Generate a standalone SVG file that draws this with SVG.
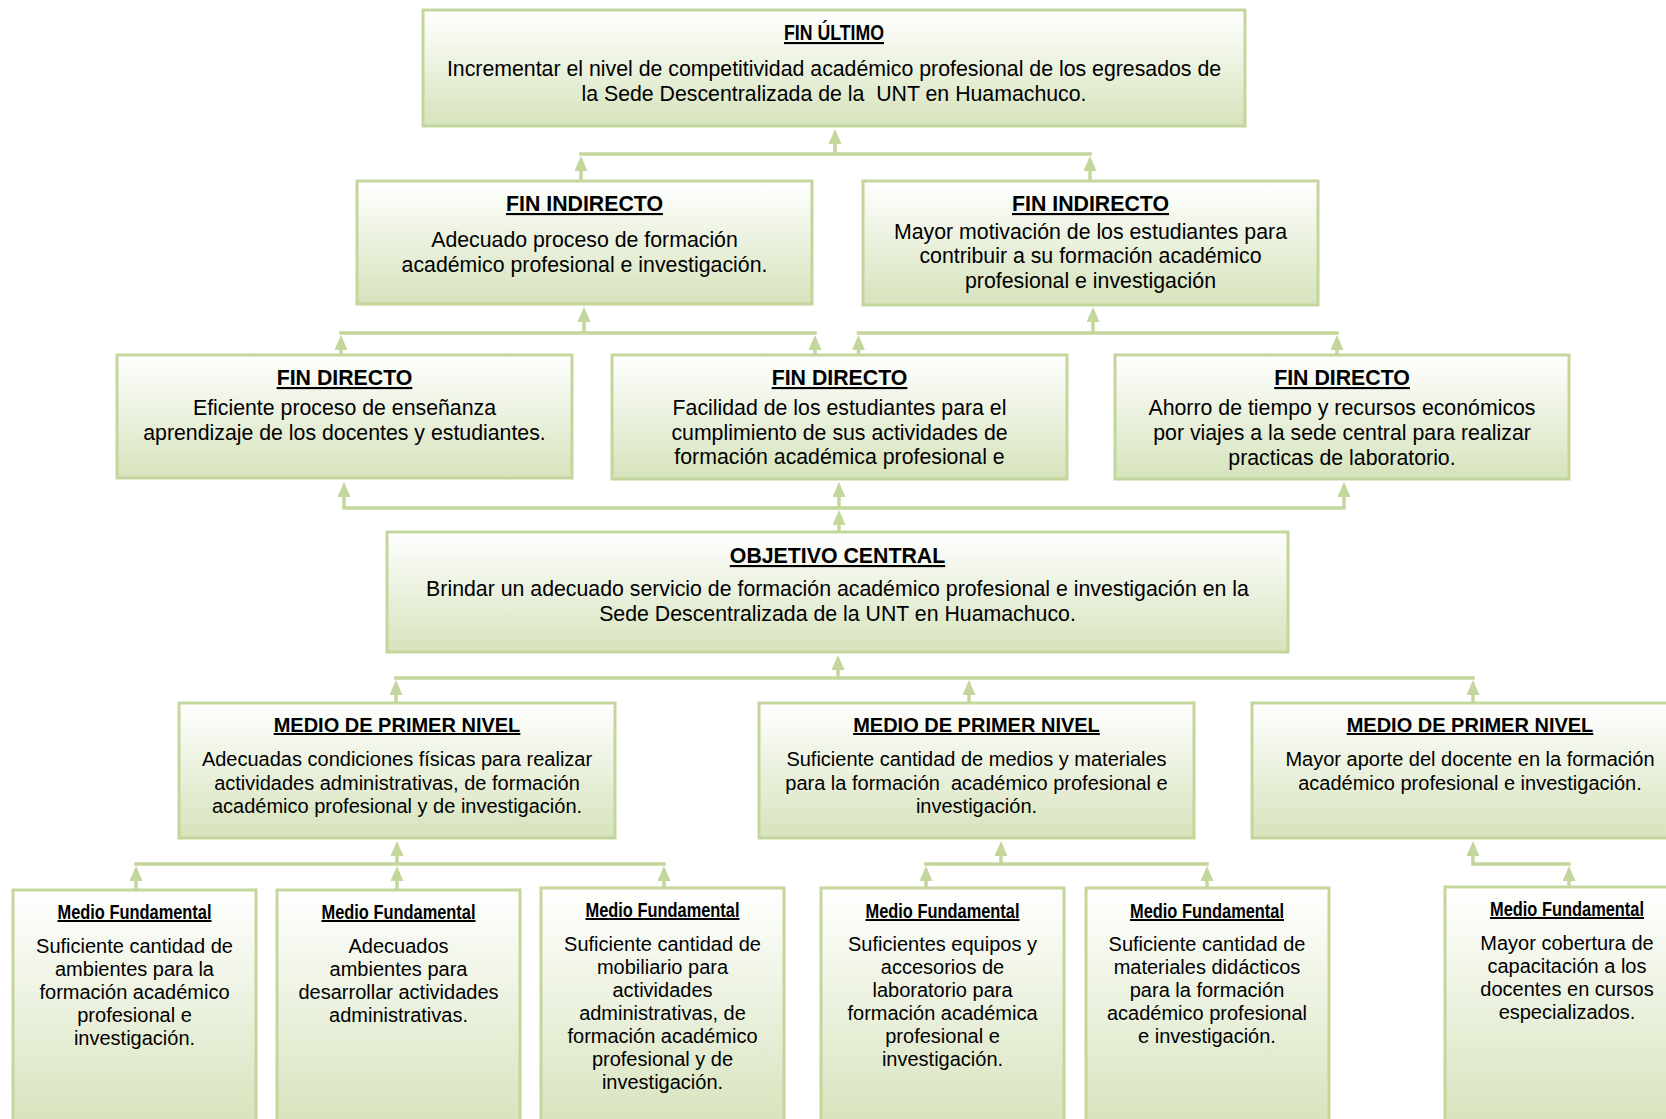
<svg xmlns="http://www.w3.org/2000/svg" width="1666" height="1119" viewBox="0 0 1666 1119">
<defs>
<linearGradient id="g" x1="0" y1="0" x2="0" y2="1">
<stop offset="0" stop-color="#ffffff"/>
<stop offset="1" stop-color="#d6e3bc"/>
</linearGradient>
<marker id="ah" markerWidth="15" markerHeight="13" refX="0" refY="6.5" orient="auto" markerUnits="userSpaceOnUse" viewBox="0 0 15 13">
<path d="M0,0 L15,6.5 L0,13 z" fill="#c3d69b"/>
</marker>
</defs>
<style>
.box{fill:url(#g);stroke:#c3d69b;stroke-width:3}
.t{font-family:"Liberation Sans",Arial,sans-serif;fill:#000;text-anchor:middle}
.big{font-size:21.3px}
.sm{font-size:20px}
.ttl{font-weight:bold;text-decoration:underline}
.nar{font-family:"Liberation Sans Narrow","Liberation Sans",Arial,sans-serif}
.c{stroke:#c3d69b;stroke-width:3.5;fill:none;stroke-linecap:square}
.a{stroke:#c3d69b;stroke-width:3.5;fill:none;marker-end:url(#ah)}
</style>
<rect width="1666" height="1119" fill="#ffffff"/>

<g id="connectors">
<line class="a" x1="835" y1="154" x2="835" y2="144"/>
<path class="c" d="M581,154 H1090"/>
<line class="a" x1="581" y1="181" x2="581" y2="171"/>
<line class="a" x1="1090" y1="181" x2="1090" y2="171"/>

<line class="a" x1="584" y1="333" x2="584" y2="322"/>
<line class="a" x1="1093" y1="333" x2="1093" y2="322"/>
<path class="c" d="M341,333 H815"/>
<path class="c" d="M858.5,333 H1337"/>
<line class="a" x1="341" y1="355" x2="341" y2="350"/>
<line class="a" x1="815" y1="355" x2="815" y2="350"/>
<line class="a" x1="858.5" y1="355" x2="858.5" y2="350"/>
<line class="a" x1="1337" y1="355" x2="1337" y2="350"/>

<line class="a" x1="344" y1="508" x2="344" y2="497"/>
<line class="a" x1="839" y1="508" x2="839" y2="497"/>
<line class="a" x1="1344" y1="508" x2="1344" y2="497"/>
<path class="c" d="M344,508 H1344"/>
<line class="a" x1="839" y1="532" x2="839" y2="525"/>

<line class="a" x1="838" y1="678" x2="838" y2="670"/>
<path class="c" d="M396,678 H1473"/>
<line class="a" x1="396" y1="703" x2="396" y2="695"/>
<line class="a" x1="969" y1="703" x2="969" y2="695"/>
<line class="a" x1="1473" y1="703" x2="1473" y2="695"/>

<line class="a" x1="397" y1="864" x2="397" y2="856"/>
<line class="a" x1="1001" y1="864" x2="1001" y2="856"/>
<line class="a" x1="1473" y1="864" x2="1473" y2="856"/>
<path class="c" d="M136,864 H664"/>
<path class="c" d="M926,864 H1207"/>
<path class="c" d="M1473,864 H1569"/>
<line class="a" x1="136" y1="890" x2="136" y2="881"/>
<line class="a" x1="397" y1="890" x2="397" y2="881"/>
<line class="a" x1="664" y1="888" x2="664" y2="881"/>
<line class="a" x1="926" y1="888" x2="926" y2="881"/>
<line class="a" x1="1207" y1="888" x2="1207" y2="881"/>
<line class="a" x1="1569" y1="887" x2="1569" y2="881"/>
</g>

<g id="fin-ultimo">
<rect class="box" x="423" y="10" width="822" height="116"/>
<text class="t big ttl nar" x="834" y="40" textLength="100" lengthAdjust="spacingAndGlyphs">FIN ÚLTIMO</text>
<text class="t big" x="834" y="76">Incrementar el nivel de competitividad académico profesional de los egresados de</text>
<text class="t big" x="834" y="101" xml:space="preserve">la Sede Descentralizada de la  UNT en Huamachuco.</text>
</g>

<g id="fin-indirecto-1">
<rect class="box" x="357" y="181" width="455" height="123"/>
<text class="t big ttl" x="584.5" y="211">FIN INDIRECTO</text>
<text class="t big" x="584.5" y="247">Adecuado proceso de formación</text>
<text class="t big" x="584.5" y="272">académico profesional e investigación.</text>
</g>

<g id="fin-indirecto-2">
<rect class="box" x="863" y="181" width="455" height="124"/>
<text class="t big ttl" x="1090.5" y="211">FIN INDIRECTO</text>
<text class="t big" x="1090.5" y="238.5">Mayor motivación de los estudiantes para</text>
<text class="t big" x="1090.5" y="263">contribuir a su formación académico</text>
<text class="t big" x="1090.5" y="287.5">profesional e investigación</text>
</g>

<g id="fin-directo-1">
<rect class="box" x="117" y="355" width="455" height="123"/>
<text class="t big ttl" x="344.5" y="385">FIN DIRECTO</text>
<text class="t big" x="344.5" y="415">Eficiente proceso de enseñanza</text>
<text class="t big" x="344.5" y="439.5">aprendizaje de los docentes y estudiantes.</text>
</g>

<g id="fin-directo-2">
<rect class="box" x="612" y="355" width="455" height="124"/>
<text class="t big ttl" x="839.5" y="385">FIN DIRECTO</text>
<text class="t big" x="839.5" y="415">Facilidad de los estudiantes para el</text>
<text class="t big" x="839.5" y="439.5">cumplimiento de sus actividades de</text>
<text class="t big" x="839.5" y="464">formación académica profesional e</text>
</g>

<g id="fin-directo-3">
<rect class="box" x="1115" y="355" width="454" height="124"/>
<text class="t big ttl" x="1342" y="385">FIN DIRECTO</text>
<text class="t big" x="1342" y="415">Ahorro de tiempo y recursos económicos</text>
<text class="t big" x="1342" y="439.5">por viajes a la sede central para realizar</text>
<text class="t big" x="1342" y="464.5">practicas de laboratorio.</text>
</g>

<g id="objetivo-central">
<rect class="box" x="387" y="532" width="901" height="120"/>
<text class="t big ttl" x="837.5" y="563">OBJETIVO CENTRAL</text>
<text class="t big" x="837.5" y="595.5">Brindar un adecuado servicio de formación académico profesional e investigación en la</text>
<text class="t big" x="837.5" y="621">Sede Descentralizada de la UNT en Huamachuco.</text>
</g>

<g id="medio-1">
<rect class="box" x="179" y="703" width="436" height="135"/>
<text class="t sm ttl" x="397" y="732">MEDIO DE PRIMER NIVEL</text>
<text class="t sm" x="397" y="766">Adecuadas condiciones físicas para realizar</text>
<text class="t sm" x="397" y="789.5">actividades administrativas, de formación</text>
<text class="t sm" x="397" y="813">académico profesional y de investigación.</text>
</g>

<g id="medio-2">
<rect class="box" x="759" y="703" width="435" height="135"/>
<text class="t sm ttl" x="976.5" y="732">MEDIO DE PRIMER NIVEL</text>
<text class="t sm" x="976.5" y="766">Suficiente cantidad de medios y materiales</text>
<text class="t sm" x="976.5" y="789.5" xml:space="preserve">para la formación  académico profesional e</text>
<text class="t sm" x="976.5" y="813">investigación.</text>
</g>

<g id="medio-3">
<rect class="box" x="1252" y="703" width="436" height="135"/>
<text class="t sm ttl" x="1470" y="732">MEDIO DE PRIMER NIVEL</text>
<text class="t sm" x="1470" y="766">Mayor aporte del docente en la formación</text>
<text class="t sm" x="1470" y="789.5">académico profesional e investigación.</text>
</g>

<g id="medio-fundamental-1">
<rect class="box" x="13" y="890" width="243" height="240"/>
<text class="t sm ttl nar" x="134.5" y="919" textLength="154" lengthAdjust="spacingAndGlyphs">Medio Fundamental</text>
<text class="t sm" x="134.5" y="953">Suficiente cantidad de</text>
<text class="t sm" x="134.5" y="976">ambientes para la</text>
<text class="t sm" x="134.5" y="999">formación académico</text>
<text class="t sm" x="134.5" y="1022">profesional e</text>
<text class="t sm" x="134.5" y="1045">investigación.</text>
</g>

<g id="medio-fundamental-2">
<rect class="box" x="277" y="890" width="243" height="240"/>
<text class="t sm ttl nar" x="398.5" y="919" textLength="154" lengthAdjust="spacingAndGlyphs">Medio Fundamental</text>
<text class="t sm" x="398.5" y="953">Adecuados</text>
<text class="t sm" x="398.5" y="976">ambientes para</text>
<text class="t sm" x="398.5" y="999">desarrollar actividades</text>
<text class="t sm" x="398.5" y="1022">administrativas.</text>
</g>

<g id="medio-fundamental-3">
<rect class="box" x="541" y="888" width="243" height="242"/>
<text class="t sm ttl nar" x="662.5" y="917" textLength="154" lengthAdjust="spacingAndGlyphs">Medio Fundamental</text>
<text class="t sm" x="662.5" y="951">Suficiente cantidad de</text>
<text class="t sm" x="662.5" y="974">mobiliario para</text>
<text class="t sm" x="662.5" y="997">actividades</text>
<text class="t sm" x="662.5" y="1020">administrativas, de</text>
<text class="t sm" x="662.5" y="1043">formación académico</text>
<text class="t sm" x="662.5" y="1066">profesional y de</text>
<text class="t sm" x="662.5" y="1089">investigación.</text>
</g>

<g id="medio-fundamental-4">
<rect class="box" x="821" y="888" width="243" height="242"/>
<text class="t sm ttl nar" x="942.5" y="918" textLength="154" lengthAdjust="spacingAndGlyphs">Medio Fundamental</text>
<text class="t sm" x="942.5" y="951">Suficientes equipos y</text>
<text class="t sm" x="942.5" y="974">accesorios de</text>
<text class="t sm" x="942.5" y="997">laboratorio para</text>
<text class="t sm" x="942.5" y="1020">formación académica</text>
<text class="t sm" x="942.5" y="1043">profesional e</text>
<text class="t sm" x="942.5" y="1066">investigación.</text>
</g>

<g id="medio-fundamental-5">
<rect class="box" x="1086" y="888" width="243" height="242"/>
<text class="t sm ttl nar" x="1207" y="918" textLength="154" lengthAdjust="spacingAndGlyphs">Medio Fundamental</text>
<text class="t sm" x="1207" y="951">Suficiente cantidad de</text>
<text class="t sm" x="1207" y="974">materiales didácticos</text>
<text class="t sm" x="1207" y="997">para la formación</text>
<text class="t sm" x="1207" y="1020">académico profesional</text>
<text class="t sm" x="1207" y="1043">e investigación.</text>
</g>

<g id="medio-fundamental-6">
<rect class="box" x="1445" y="887" width="243" height="243"/>
<text class="t sm ttl nar" x="1567" y="916" textLength="154" lengthAdjust="spacingAndGlyphs">Medio Fundamental</text>
<text class="t sm" x="1567" y="950">Mayor cobertura de</text>
<text class="t sm" x="1567" y="973">capacitación a los</text>
<text class="t sm" x="1567" y="996">docentes en cursos</text>
<text class="t sm" x="1567" y="1019">especializados.</text>
</g>
</svg>
